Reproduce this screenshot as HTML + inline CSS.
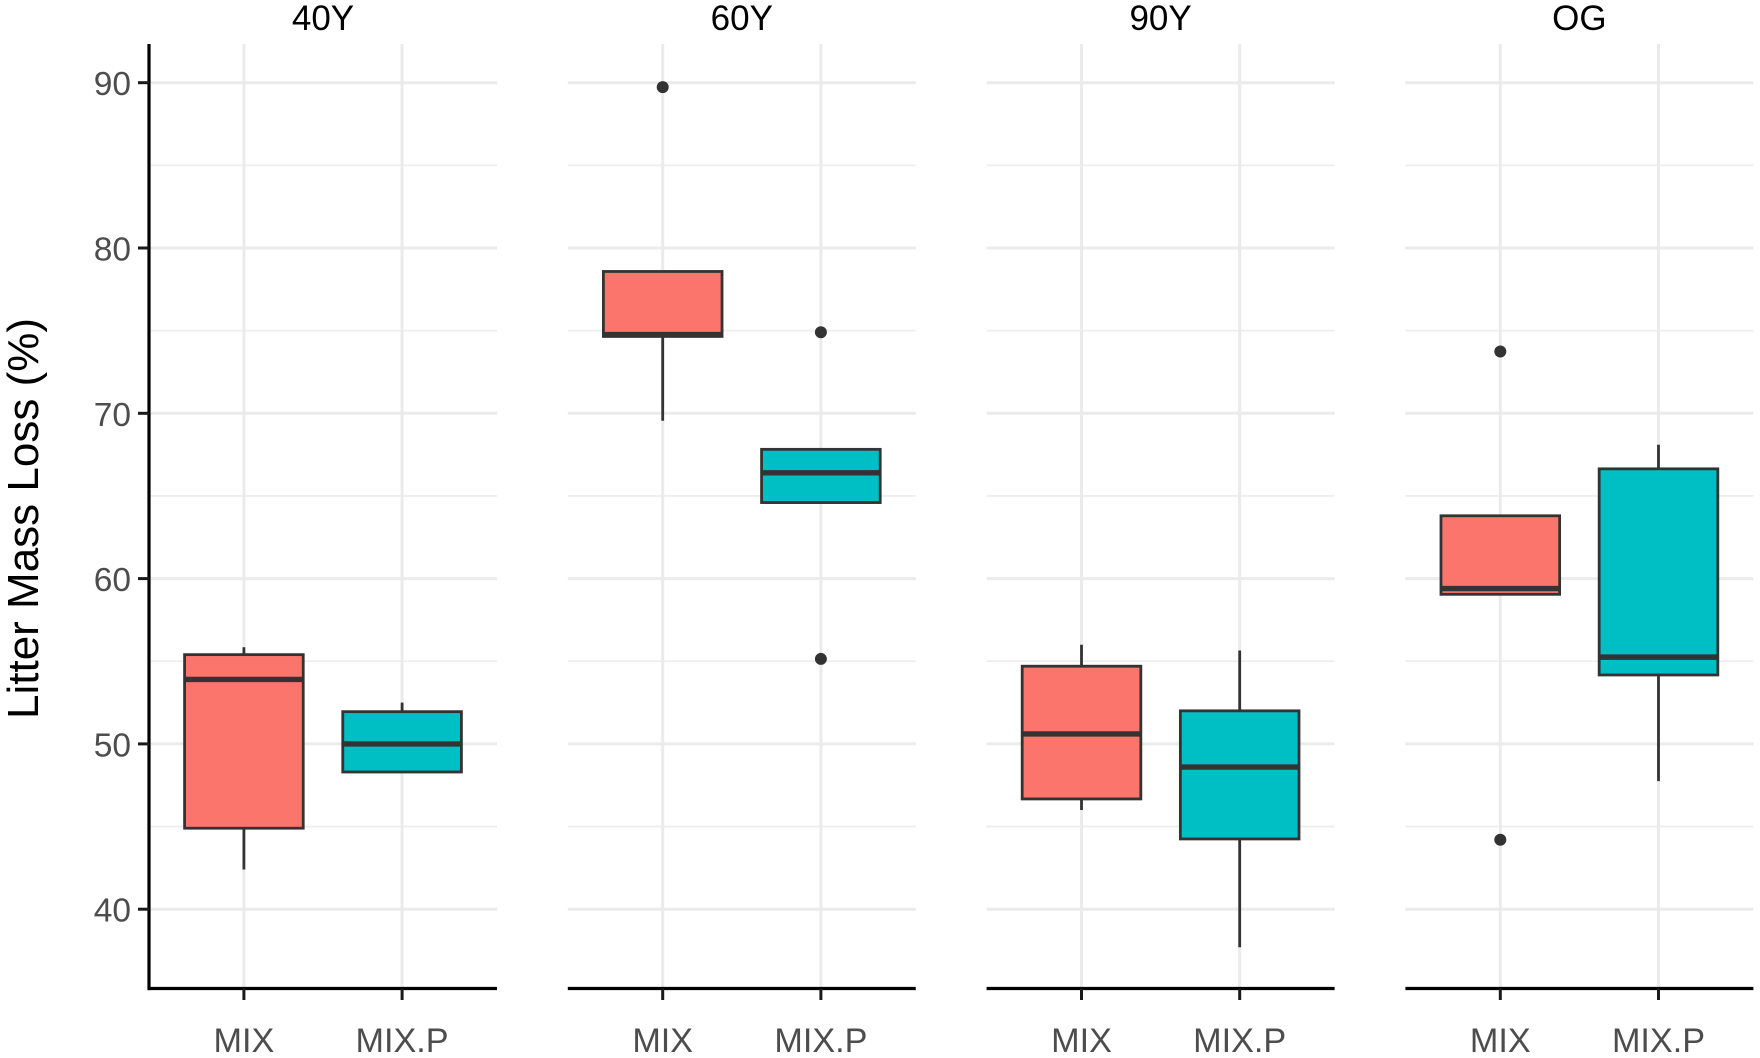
<!DOCTYPE html>
<html lang="en">
<head>
<meta charset="utf-8">
<title>Litter Mass Loss boxplots</title>
<style>
html,body{margin:0;padding:0;background:#fff;}
svg{display:block;font-family:"Liberation Sans",Arial,sans-serif;}
</style>
</head>
<body>
<svg id="chart" xmlns="http://www.w3.org/2000/svg" width="1760" height="1058" viewBox="0 0 1760 1058"></svg>
<script>
const panelNames = ["40Y", "60Y", "90Y", "OG"];
const categories = ["MIX", "MIX.P"];
const yTickValues = [40, 50, 60, 70, 80, 90];
const yMinorValues = [45, 55, 65, 75, 85];
const yAxisTitle = "Litter Mass Loss (%)";
const fills = ["#fb756d", "#00bfc4"];

const whiskerLow = [[42.4, 48.3], [69.55, 64.6], [46.0, 37.7], [59.05, 47.75]];
const q1Values = [[44.9, 48.3], [74.65, 64.6], [46.67, 44.25], [59.05, 54.17]];
const medianValues = [[53.9, 50.0], [74.76, 66.4], [50.6, 48.6], [59.4, 55.25]];
const q3Values = [[55.4, 51.95], [78.58, 67.82], [54.7, 52.0], [63.8, 66.64]];
const whiskerHigh = [[55.85, 52.5], [78.58, 67.82], [56.0, 55.65], [63.8, 68.1]];
const outlierValues = [[[], []], [[89.73], [74.9, 55.14]], [[], []], [[73.74, 44.2], []]];

const svg = document.getElementById("chart");
const NS = "http://www.w3.org/2000/svg";
const plotTop = 44, plotBottom = 988.5;
const panelLeft0 = 149, panelStep = 418.8, panelWidth = 348;

function yScale(v) { return 82.7 + (90 - v) * 16.53; }
function panelLeft(p) { return panelLeft0 + p * panelStep; }
function xScale(p, c) { return panelLeft(p) + (0.6 + c) * panelWidth / 2.2; }
const boxWidth = 0.75 * panelWidth / 2.2;

function make(parent, tag, attrs, text) {
  const el = document.createElementNS(NS, tag);
  for (const k in attrs) el.setAttribute(k, attrs[k]);
  if (text !== undefined) el.textContent = text;
  parent.appendChild(el);
  return el;
}
function line(parent, x1, y1, x2, y2, stroke, w) {
  return make(parent, "line", { x1: x1, y1: y1, x2: x2, y2: y2, stroke: stroke, "stroke-width": w });
}

panelNames.forEach(function (name, p) {
  const left = panelLeft(p);
  const right = left + panelWidth;
  const g = make(svg, "g", {});
  
  

  yMinorValues.forEach(function (v) {
    const el = line(g, left, yScale(v), right, yScale(v), "#eeeeee", 1.8);
    
    
  });
  yTickValues.forEach(function (v) {
    const el = line(g, left, yScale(v), right, yScale(v), "#ebebeb", 3);
    
    
  });
  categories.forEach(function (c, i) {
    const el = line(g, xScale(p, i), plotTop, xScale(p, i), plotBottom, "#ebebeb", 3);
    
    
  });

  categories.forEach(function (c, i) {
    const key = name.toLowerCase() + "-" + c.toLowerCase().replace(".", "-");
    const x = xScale(p, i);
    const box = make(g, "g", {});
    
    

    const wu = line(box, x, yScale(whiskerHigh[p][i]), x, yScale(q3Values[p][i]), "#333333", 2.8);
    
    
    const wl = line(box, x, yScale(q1Values[p][i]), x, yScale(whiskerLow[p][i]), "#333333", 2.8);
    
    

    const r = make(box, "rect", {
      x: x - boxWidth / 2,
      y: yScale(q3Values[p][i]),
      width: boxWidth,
      height: yScale(q1Values[p][i]) - yScale(q3Values[p][i]),
      fill: fills[i],
      stroke: "#333333",
      "stroke-width": 2.8
    });
    
    

    const m = line(box, x - boxWidth / 2, yScale(medianValues[p][i]), x + boxWidth / 2, yScale(medianValues[p][i]), "#333333", 5.4);
    
    

    outlierValues[p][i].forEach(function (v) {
      const o = make(box, "circle", { cx: x, cy: yScale(v), r: 6, fill: "#333333" });
      
      
    });
  });

  const ax = line(g, p === 0 ? left - 1.5 : left, plotBottom, right, plotBottom, "#000000", 3.2);
  
  

  categories.forEach(function (c, i) {
    const x = xScale(p, i);
    const t = line(g, x, plotBottom, x, plotBottom + 11.5, "#1a1a1a", 3);
    
    
    const lab = make(g, "text", {
      x: x, y: 1052, "text-anchor": "middle", "font-size": 34.2, fill: "#4d4d4d"
    }, c);
    
    
  });

  const title = make(g, "text", {
    x: left + panelWidth / 2, y: 30, "text-anchor": "middle", "font-size": 35, fill: "#000000"
  }, name);
  
  
});

const yAxisGroup = make(svg, "g", {});



const yLine = line(yAxisGroup, panelLeft0, plotTop, panelLeft0, plotBottom + 1.6, "#000000", 3.2);



yTickValues.forEach(function (v) {
  const t = line(yAxisGroup, panelLeft0 - 11, yScale(v), panelLeft0, yScale(v), "#1a1a1a", 3);
  
  
  const lab = make(yAxisGroup, "text", {
    x: 131, y: yScale(v) + 12.5, "text-anchor": "end", "font-size": 33.5, fill: "#4d4d4d"
  }, String(v));
  
  
});

const yTitle = make(svg, "text", {
  transform: "translate(38 518.5) rotate(-90)", "text-anchor": "middle", "font-size": 44, fill: "#000000"
}, yAxisTitle);


</script>
</body>
</html>
